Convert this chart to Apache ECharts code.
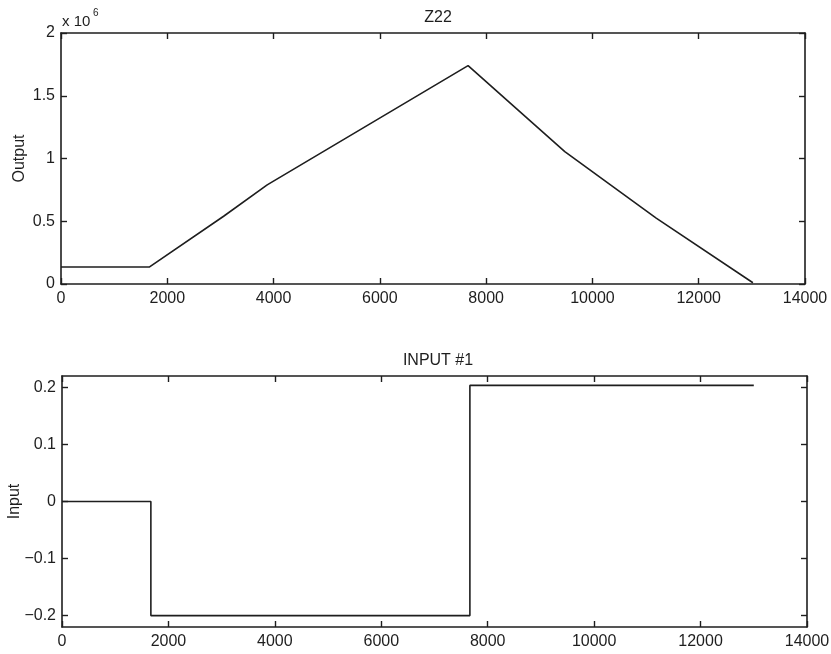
<!DOCTYPE html>
<html>
<head>
<meta charset="utf-8">
<script src="https://cdn.jsdelivr.net/npm/echarts@6/dist/echarts.min.js"></script>
<style>
  html, body { margin: 0; padding: 0; background: #fff; }
  #chart { width: 831px; height: 654px; }
</style>
</head>
<body>
<div id="chart"></div>
<script>
// Output Z22 (piecewise linear response)
const outputTime = [0, 1660, 3060, 3880, 7660, 9480, 11200, 13020];
const outputValue = [135000, 135000, 540000, 790000, 1740000, 1055000, 525000, 10000];

// Input #1 (step input)
const inputTime = [0, 1670, 1670, 7665, 7665, 13000];
const inputValue = [0, 0, -0.2, -0.2, 0.2035, 0.2035];

const xTicks = [0, 2000, 4000, 6000, 8000, 10000, 12000, 14000];
const outputTicks = [0, 0.5, 1, 1.5, 2];
const inputTicks = [-0.2, -0.1, 0, 0.1, 0.2];

const FONT = 'Liberation Sans, Arial, Helvetica, sans-serif';
const INK = '#1e1e1e';
const FS = 16;

const chart = echarts.init(document.getElementById('chart'), null, { renderer: 'canvas' });

const lineStyle = { color: INK, width: 1.6 };
const labelStyle = { color: INK, fontFamily: FONT, fontSize: FS };

function xAxisPair(gridIndex) {
  const base = {
    type: 'value', gridIndex, min: xTicks[0], max: xTicks[xTicks.length - 1], interval: 2000,
    splitLine: { show: false },
    axisLine: { show: true, onZero: false, lineStyle },
    axisTick: { show: true, inside: true, length: 6, lineStyle: { color: INK, width: 1.4 } }
  };
  return [
    Object.assign({}, base, { position: 'bottom',
      axisLabel: { show: true, margin: 7, ...labelStyle, formatter: v => String(v),
        showMinLabel: true, showMaxLabel: true } }),
    Object.assign({}, base, { position: 'top', axisLabel: { show: false } })
  ];
}

function yAxisPair(gridIndex, opts, name, nameGap) {
  const base = Object.assign({
    type: 'value', gridIndex,
    splitLine: { show: false },
    axisLine: { show: true, onZero: false, lineStyle },
  }, opts.range);
  const tick = { show: true, inside: true, length: 6, lineStyle: { color: INK, width: 1.4 } };
  if (opts.custom) tick.customValues = opts.custom;
  const label = { show: true, margin: 6, ...labelStyle, formatter: opts.formatter, showMinLabel: true, showMaxLabel: true };
  if (opts.custom) label.customValues = opts.custom;
  return [
    Object.assign({}, base, { position: 'left', axisTick: tick, axisLabel: label,
      name, nameLocation: 'middle', nameGap, nameRotate: 90, nameMoveOverlap: false,
      nameTextStyle: { color: INK, fontFamily: FONT, fontSize: FS } }),
    Object.assign({}, base, { position: 'right', axisTick: tick, axisLabel: { show: false } })
  ];
}

const topX = xAxisPair(0);
const botX = xAxisPair(1);
const topY = yAxisPair(0, {
  range: { min: 0, max: 2000000, interval: 500000 },
  formatter: v => String(v / 1e6)
}, 'Output', 33);
const botY = yAxisPair(1, {
  range: { min: -0.22, max: 0.22 },
  custom: inputTicks,
  formatter: v => (v < 0 ? '\u2212' + Math.abs(v) : String(v))
}, 'Input', 39);

chart.setOption({
  animation: false,
  backgroundColor: '#ffffff',
  title: [
    { text: 'Z22', left: 433, top: 5, textAlign: 'center',
      textStyle: { color: INK, fontFamily: FONT, fontSize: FS, fontWeight: 'normal' } },
    { text: 'INPUT #1', left: 433, top: 348, textAlign: 'center',
      textStyle: { color: INK, fontFamily: FONT, fontSize: FS, fontWeight: 'normal' } }
  ],
  graphic: [
    { type: 'text', left: 62, top: 14,
      style: { text: 'x 10', fill: INK, font: '15px ' + FONT } },
    { type: 'text', left: 93, top: 8,
      style: { text: '6', fill: INK, font: '10px ' + FONT } }
  ],
  grid: [
    { left: 61, top: 33, width: 744, height: 251, outerBoundsMode: 'none', containLabel: false },
    { left: 62, top: 376, width: 745, height: 251, outerBoundsMode: 'none', containLabel: false }
  ],
  xAxis: [topX[0], topX[1], botX[0], botX[1]],
  yAxis: [topY[0], topY[1], botY[0], botY[1]],
  series: [
    { type: 'line', xAxisIndex: 0, yAxisIndex: 0, showSymbol: false,
      lineStyle: { color: INK, width: 1.6 },
      data: outputTime.map((t, i) => [t, outputValue[i]]) },
    { type: 'line', xAxisIndex: 2, yAxisIndex: 2, showSymbol: false,
      lineStyle: { color: INK, width: 1.6 },
      data: inputTime.map((t, i) => [t, inputValue[i]]) }
  ]
});
</script>
</body>
</html>
